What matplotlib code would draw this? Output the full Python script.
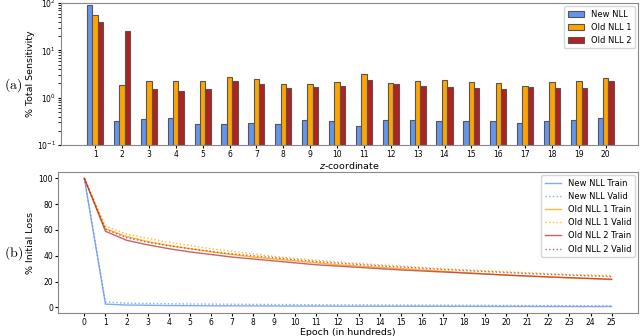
import matplotlib
matplotlib.use("Agg")
import matplotlib.pyplot as plt
import numpy as np

# (a) sensitivity per z-coordinate
z_coords = list(range(1, 21))
new_nll = [90, 0.32, 0.35, 0.38, 0.28, 0.28, 0.29, 0.28, 0.34, 0.32,
           0.25, 0.34, 0.34, 0.32, 0.32, 0.32, 0.29, 0.32, 0.34, 0.38]
old_nll_1 = [56, 1.85, 2.2, 2.2, 2.3, 2.8, 2.5, 1.9, 1.9, 2.1,
             3.1, 2.0, 2.2, 2.4, 2.15, 2.0, 1.8, 2.1, 2.2, 2.6]
old_nll_2 = [40, 26, 1.5, 1.4, 1.5, 2.2, 1.9, 1.6, 1.65, 1.8,
             2.4, 1.95, 1.8, 1.7, 1.6, 1.5, 1.7, 1.6, 1.6, 2.2]

# (b) loss curves, epochs in hundreds
epochs = list(range(0, 26))
new_train = [100, 2.5, 1.8, 1.6, 1.4, 1.3, 1.2, 1.15, 1.1, 1.05, 1.0, 0.95, 0.9,
             0.88, 0.85, 0.82, 0.8, 0.78, 0.75, 0.72, 0.7, 0.68, 0.65, 0.62, 0.6, 0.58]
new_valid = [100, 4.2, 3.3, 3.0, 2.8, 2.6, 2.5, 2.4, 2.3, 2.2, 2.1, 2.0, 1.95,
             1.9, 1.85, 1.8, 1.7, 1.65, 1.6, 1.5, 1.45, 1.4, 1.35, 1.3, 1.25, 1.2]
old1_train = [100, 61, 55, 51, 48, 45.5, 43, 41, 39, 37.5, 36, 34.5, 33,
              32, 31, 30, 29, 28, 27, 26, 25, 24.3, 23.5, 22.8, 22.2, 21.5]
old1_valid = [100, 63, 57, 53.5, 50.5, 48, 45.5, 43.5, 41.5, 39.5, 38, 36.5, 35.2,
              34, 33, 32, 31, 30, 29.2, 28.4, 27.6, 26.8, 26.2, 25.5, 25, 24.5]
old2_train = [100, 59, 52, 48.5, 45.5, 43, 41, 39, 37.5, 36, 34.5, 33, 32,
              31, 30, 29, 28.2, 27.4, 26.6, 25.8, 25, 24.3, 23.6, 23, 22.4, 21.8]
old2_valid = [100, 60.5, 54, 50.5, 47.8, 45.5, 43.5, 41.5, 40, 38.5, 37, 35.5, 34.3,
              33.2, 32.2, 31.2, 30.3, 29.4, 28.6, 27.8, 27, 26.3, 25.6, 25, 24.4, 23.8]

blue = "cornflowerblue"
orange = "orange"
red = "firebrick"

fig = plt.figure(figsize=(6.4, 3.36), dpi=100)

ax1 = fig.add_axes([61 / 640, 1 - 145 / 336, 577 / 640, 142 / 336])
x = np.array(z_coords)
w = 0.2
ax1.bar(x - w, new_nll, w, color=blue, edgecolor="#555555", linewidth=0.8, label="New NLL")
ax1.bar(x, old_nll_1, w, color=orange, edgecolor="#555555", linewidth=0.8, label="Old NLL 1")
ax1.bar(x + w, old_nll_2, w, color=red, edgecolor="#555555", linewidth=0.8, label="Old NLL 2")
ax1.set_yscale("log")
ax1.set_ylim(0.1, 100)
ax1.set_xlim(-0.27, 21.2)
ax1.set_xticks(z_coords)
ax1.tick_params(labelsize=5.5, length=2, pad=1.5)
ax1.set_xlabel("$z$-coordinate", fontsize=6.8, labelpad=1)
ax1.set_ylabel("% Total Sensitivity", fontsize=6.8)
ax1.yaxis.set_label_coords(-0.045, 0.5)
ax1.legend(loc="upper right", fontsize=6, borderaxespad=0.4)
for s in ax1.spines.values():
    s.set_color("#888888")

ax2 = fig.add_axes([58 / 640, 1 - 313 / 336, 580 / 640, 141 / 336])
ax2.plot(epochs, new_train, color=blue, lw=1, alpha=0.8, label="New NLL Train")
ax2.plot(epochs, new_valid, color=blue, lw=1, ls=":", alpha=0.8, label="New NLL Valid")
ax2.plot(epochs, old1_train, color=orange, lw=1, alpha=0.8, label="Old NLL 1 Train")
ax2.plot(epochs, old1_valid, color=orange, lw=1, ls=":", alpha=0.8, label="Old NLL 1 Valid")
ax2.plot(epochs, old2_train, color=red, lw=1, alpha=0.7, label="Old NLL 2 Train")
ax2.plot(epochs, old2_valid, color=red, lw=1, ls=":", alpha=0.7, label="Old NLL 2 Valid")
ax2.set_xticks(epochs)
ax2.tick_params(labelsize=5.5, length=2, pad=1.5)
ax2.set_xlabel("Epoch (in hundreds)", fontsize=6.8, labelpad=1)
ax2.set_ylabel("% Initial Loss", fontsize=6.8)
ax2.yaxis.set_label_coords(-0.04, 0.5)
ax2.legend(loc="upper right", fontsize=6, borderaxespad=0.4)
for s in ax2.spines.values():
    s.set_color("#888888")

fig.text(0.021, 1 - 85 / 336, r"$(\mathrm{a})$", fontsize=10, ha="center", va="center",
         math_fontfamily="cm")
fig.text(0.021, 1 - 253 / 336, r"$(\mathrm{b})$", fontsize=10, ha="center", va="center",
         math_fontfamily="cm")

fig.savefig("out.png", dpi=100)
